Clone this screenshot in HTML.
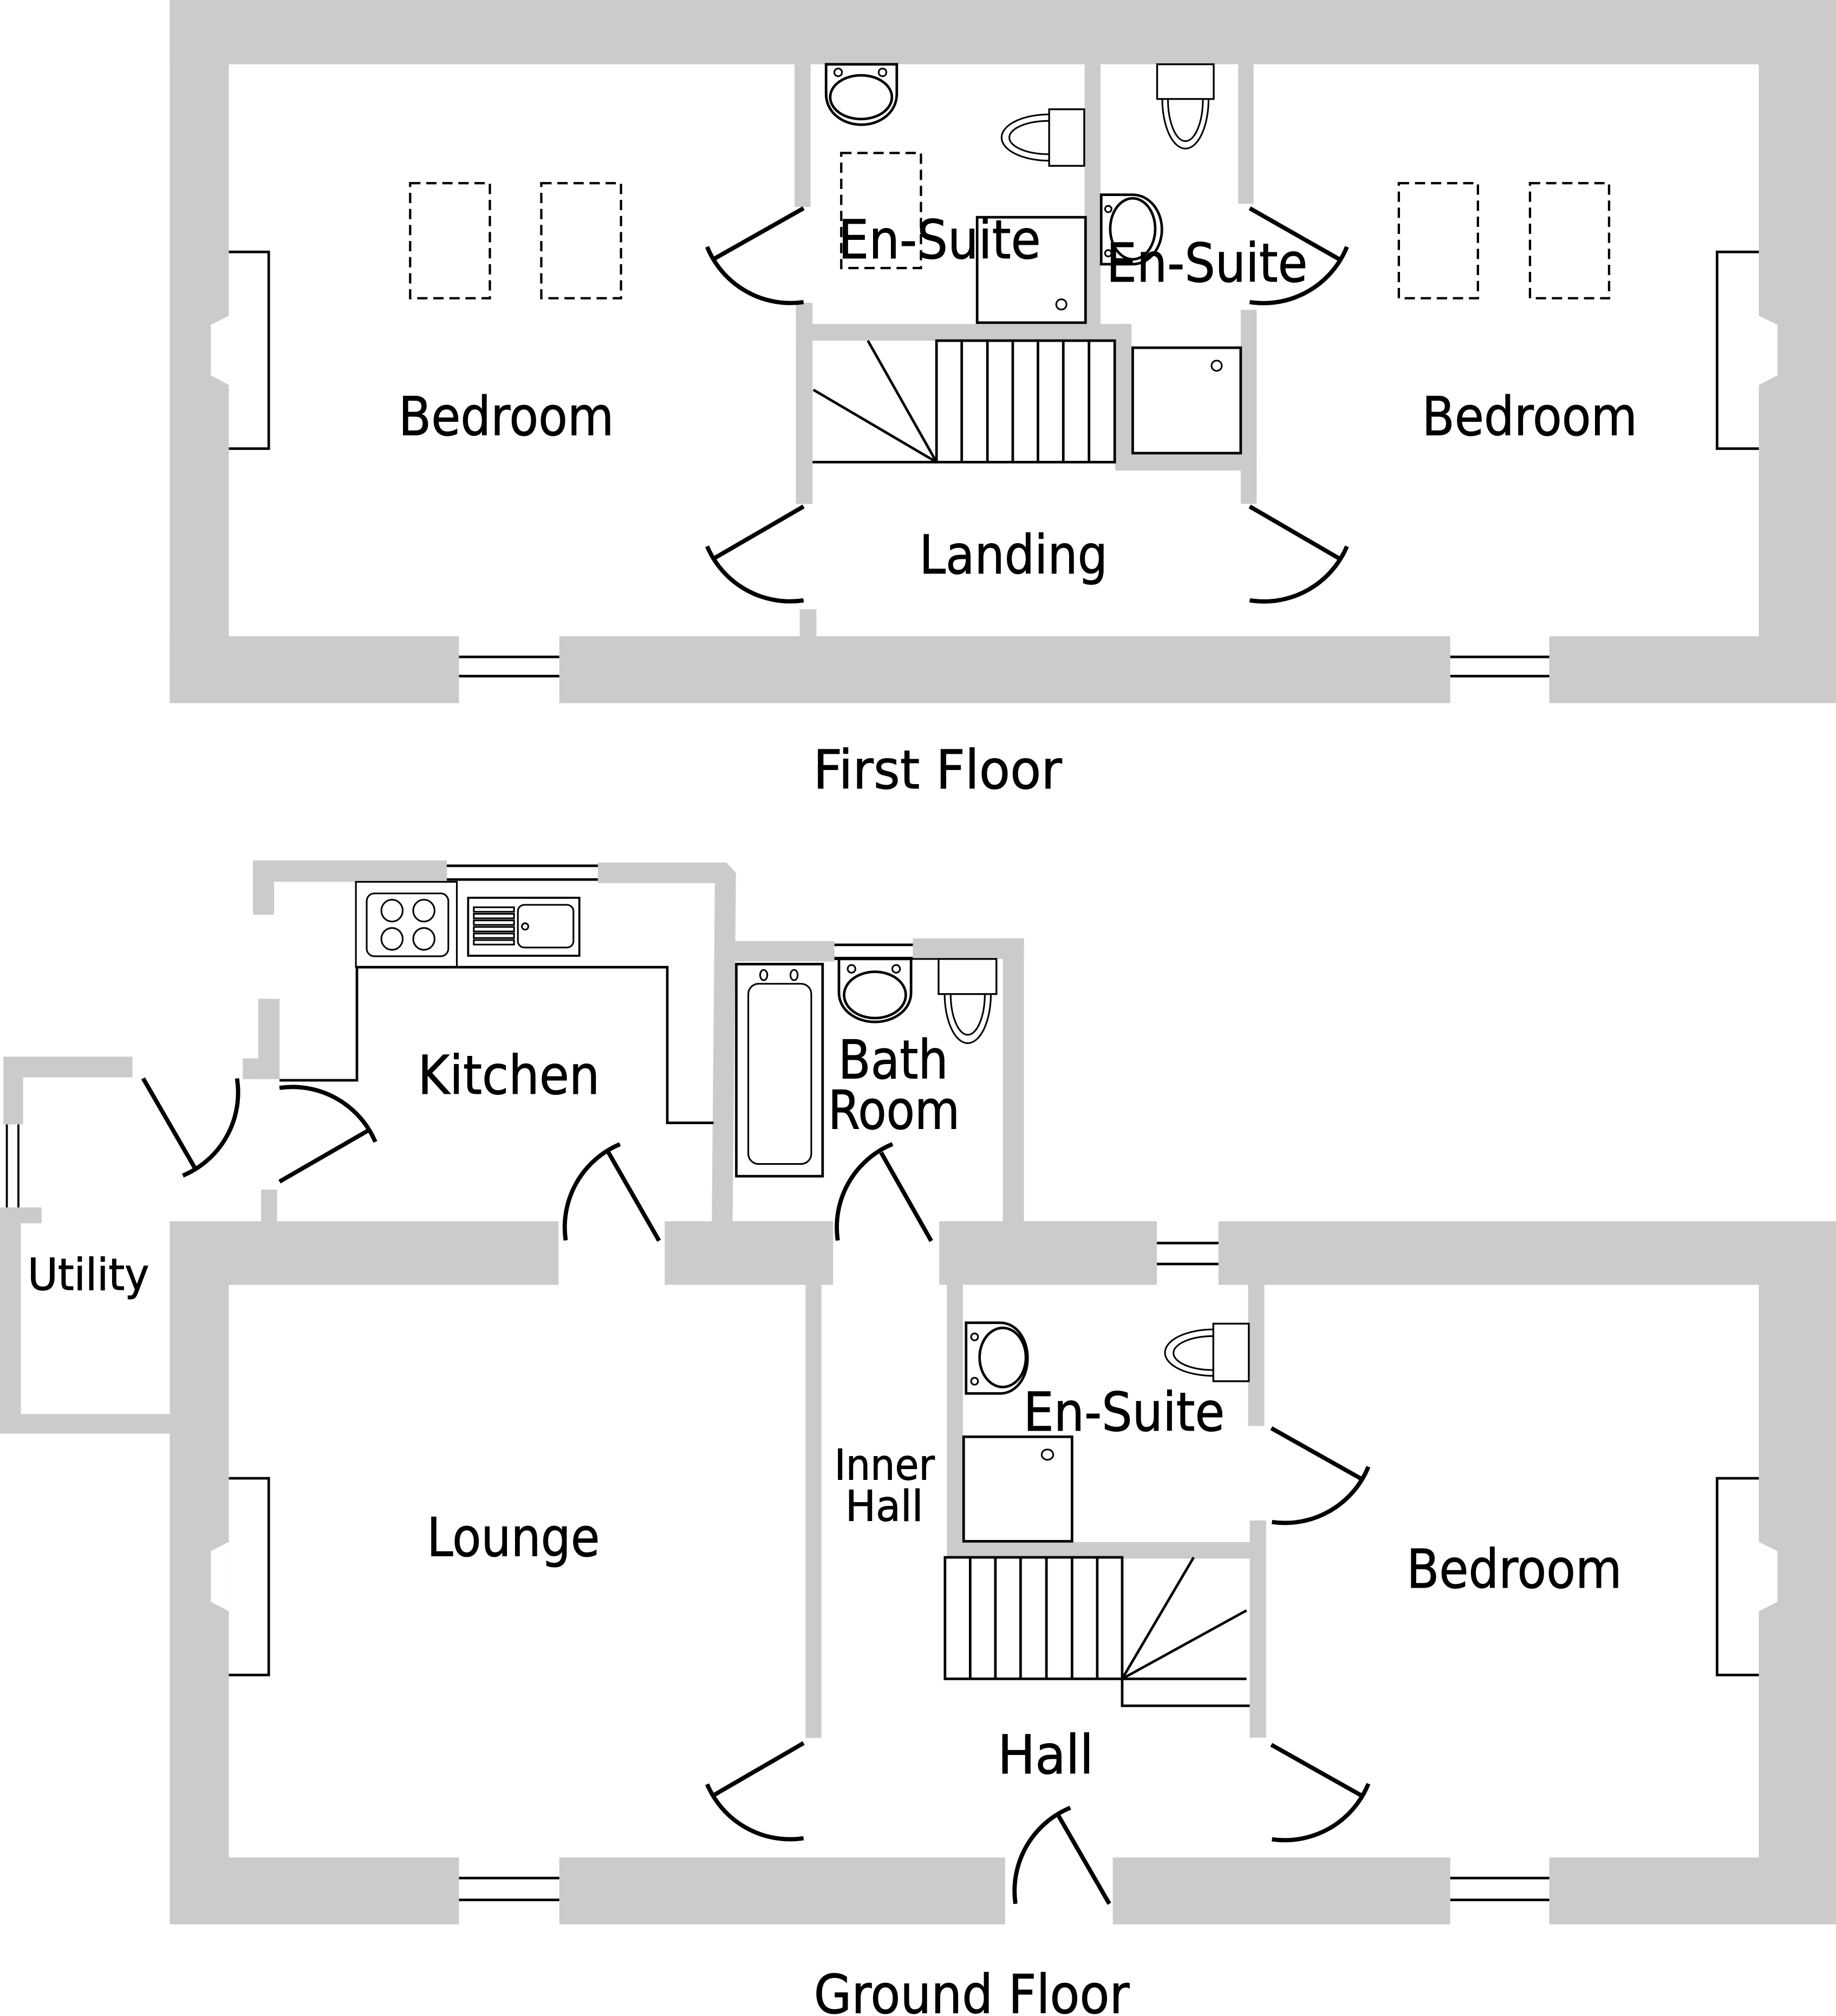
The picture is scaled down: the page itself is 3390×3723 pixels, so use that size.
<!DOCTYPE html>
<html><head><meta charset="utf-8"><style>
html,body{margin:0;padding:0;background:#fff}
svg{display:block}
text{font-family:"DejaVu Sans","Liberation Sans",sans-serif;fill:#000;stroke:#000;stroke-width:.45px;font-size:41.6px}
.g{fill:#cbcbcb;stroke:none}
.d{fill:none;stroke:#000;stroke-width:3.3}
.l{fill:none;stroke:#000;stroke-width:2}
.t{fill:none;stroke:#000;stroke-width:1.3}
.h{fill:none;stroke:#000;stroke-width:1.8;stroke-dasharray:8 4.5}
</style></head><body>
<svg xmlns="http://www.w3.org/2000/svg" width="3390" height="3723" viewBox="0 0 1428 1568.3">
<rect width="1428" height="1568.3" fill="#fff"/>
<!-- FIRST FLOOR walls -->
<g class="g">
<rect x="132" y="0" width="1296" height="50"/>
<path d="M132 0H178V245.6L164 252.7V291.9L178 299.5V547H132Z"/>
<path d="M1428 0H1368V245.6L1382.5 252.7V291.9L1368 299.5V547H1428Z"/>
<rect x="132" y="495" width="225" height="52"/>
<rect x="435" y="495" width="693" height="52"/>
<rect x="1205" y="495" width="223" height="52"/>
<rect x="618" y="50" width="12.5" height="111"/>
<rect x="619" y="235.5" width="13" height="156.5"/>
<rect x="619" y="252" width="261" height="13"/>
<rect x="843.6" y="50" width="12.4" height="202"/>
<rect x="867.4" y="252" width="12.6" height="114"/>
<rect x="867.4" y="353" width="110" height="13"/>
<rect x="963" y="50" width="12" height="108.5"/>
<rect x="965" y="241" width="12.4" height="151"/>
<rect x="622" y="474" width="13" height="21"/>
</g>
<path class="l" d="M357 511H435M357 526H435M1128 511H1205M1128 526H1205"/>
<path class="l" d="M178 196H209V349H178M1368 196H1335.5V349H1368"/>
<!-- doors FF -->
<path class="d" d="M625 162L556 201M550 192A70 70 0 0 0 625 235"/>
<path class="d" d="M625 394L556 434M550 425A70 70 0 0 0 625 467"/>
<path class="d" d="M972 162L1041.7 201.7M1047.6 192A70 70 0 0 1 972 235"/>
<path class="d" d="M972 394L1041.7 434.5M1047.6 425A70 70 0 0 1 972 467"/>
<!-- skylights -->
<rect class="h" x="319" y="142.5" width="62" height="89.5"/>
<rect class="h" x="421" y="142.5" width="62" height="89.5"/>
<rect class="h" x="654.3" y="119" width="62" height="89.5"/>
<rect class="h" x="1088" y="142.5" width="61.5" height="89.5"/>
<rect class="h" x="1190" y="142.5" width="61.5" height="89.5"/>
<!-- en-suite 1 fixtures -->
<path class="l" d="M642.5 50H697.5V73C697.5 88 684 97 670 97C656 97 642.5 88 642.5 73Z"/>
<ellipse class="l" cx="669.7" cy="75.6" rx="24" ry="17"/>
<circle class="t" cx="651.9" cy="56.3" r="3"/><circle class="t" cx="686.4" cy="56.3" r="3"/>
<path class="t" d="M816 89A37 18 0 0 0 816 125M816 94A31 13 0 0 0 816 120"/>
<rect fill="#fff" stroke="#000" stroke-width="1.4" x="816" y="85" width="27.3" height="44"/>
<rect class="l" x="760" y="169" width="84.3" height="82"/>
<circle class="t" cx="825.5" cy="236.8" r="4"/>
<!-- en-suite 2 fixtures -->
<path class="l" d="M856.5 151.5H881C894 151.5 903.7 164 903.7 178.5C903.7 193 894 205.5 881 205.5H856.5Z"/>
<ellipse class="l" cx="881" cy="178" rx="17.5" ry="23.7"/>
<circle class="t" cx="862" cy="162.6" r="2.5"/><circle class="t" cx="862" cy="197" r="2.5"/>
<path class="t" d="M904 77A18 38.6 0 0 0 940 77M908.4 77A13.6 32.8 0 0 0 935.6 77"/>
<rect fill="#fff" stroke="#000" stroke-width="1.4" x="900" y="50" width="44" height="27"/>
<rect class="l" x="881" y="270.5" width="84" height="82"/>
<circle class="t" cx="946.3" cy="284.5" r="4"/>
<!-- stairs FF -->
<rect class="l" x="728.4" y="265" width="138.6" height="94.5"/>
<path class="l" d="M748 265V359.5M768 265V359.5M787.7 265V359.5M807.3 265V359.5M827 265V359.5M847 265V359.5M632 359.5H728.4"/>
<path class="l" d="M675 265L728.4 359.5M632.6 303.2L728.4 359.5"/>
<!-- GROUND FLOOR walls -->
<g class="g">
<path d="M132 950H434.4V999.5H178V1445H357V1497H132V1115.3H0V939.3H32.3V951.6H16.2V1100H132Z"/>
<rect x="517" y="950" width="131" height="49.5"/>
<rect x="730.5" y="950" width="169.3" height="49.5"/>
<rect x="710" y="730" width="86.4" height="16"/>
<rect x="780" y="730" width="16.4" height="222"/>
<path d="M947.7 950H1428V1497H1205V1445H1368V999.5H947.7Z"/>
<rect x="435" y="1445" width="346.7" height="52"/>
<rect x="865.5" y="1445" width="262.5" height="52"/>
<path d="M196.7 669.3H347.5V686H213.2V711.6H196.7Z"/>
<path d="M465 671H565L572.4 679L569.8 950H553.6L556 687H465Z"/>
<rect x="556" y="732" width="93" height="16"/>
<rect x="200.8" y="777" width="16.6" height="62.5"/>
<rect x="188.8" y="823.4" width="28.6" height="16.1"/>
<path d="M2.6 822H103V838.2H18V874.7H2.6Z"/>
<rect x="203" y="925.4" width="12.5" height="25"/>
<rect x="626.5" y="999" width="12.4" height="353"/>
<rect x="736.5" y="999" width="12.4" height="213.5"/>
<rect x="970.8" y="999" width="12.6" height="110.3"/>
<rect x="736.5" y="1199.6" width="240" height="12.9"/>
<rect x="972" y="1182.8" width="12.8" height="169"/>
</g>
<!-- windows GF -->
<path class="l" d="M357 1461H435M357 1478H435M1128 1461H1205M1128 1478H1205"/>
<path class="l" d="M899.8 967H947.7M899.8 983.3H947.7"/>
<path class="l" d="M649 735H710"/>
<path d="M649 745.6H710" fill="none" stroke="#000" stroke-width="2.5"/>
<path class="l" d="M347.5 673.5H465M347.5 684.2H465"/>
<path class="t" d="M5.3 874.7V939.3M14.3 874.7V939.3" style="stroke-width:1.6"/>
<path class="l" d="M178 1150H209V1303H178M1368 1150H1335.5V1303H1368"/>
<!-- notches GF -->
<path fill="#fff" d="M178 1199.5L164 1206.7V1246L178 1253.5Z"/>
<path fill="#fff" d="M1368 1199.5L1382.5 1206.7V1246L1368 1253.5Z"/>
<!-- kitchen -->
<path class="l" d="M217.4 840.4H277.6V752.4H519V873.5H555"/>
<rect class="t" x="276.8" y="686" width="78.5" height="66.3"/>
<rect class="t" x="285.2" y="695" width="63.5" height="48.9" rx="6"/>
<ellipse class="t" cx="304.9" cy="708.4" rx="8.3" ry="8.5"/>
<ellipse class="t" cx="329.7" cy="708.4" rx="8.3" ry="8.5"/>
<ellipse class="t" cx="304.9" cy="730.4" rx="8.3" ry="8.5"/>
<ellipse class="t" cx="329.7" cy="730.4" rx="8.3" ry="8.5"/>
<rect class="t" x="364.1" y="698.4" width="86.5" height="45.1" style="stroke-width:1.6"/>
<g class="t"><rect x="368.5" y="705.8" width="31.3" height="3.5"/><rect x="368.5" y="710.9" width="31.3" height="3.5"/><rect x="368.5" y="716" width="31.3" height="3.5"/><rect x="368.5" y="721.1" width="31.3" height="3.5"/><rect x="368.5" y="726.2" width="31.3" height="3.5"/><rect x="368.5" y="731.3" width="31.3" height="3.5"/></g>
<rect class="t" x="402.8" y="703.9" width="43.2" height="33.2" rx="5"/>
<circle class="t" cx="408.4" cy="720.7" r="2.5"/>
<!-- bathroom -->
<rect class="l" x="572.7" y="750" width="67.1" height="165"/>
<rect class="t" x="582" y="765.3" width="49" height="140.2" rx="8"/>
<ellipse class="t" cx="594" cy="758.5" rx="2.8" ry="4"/>
<ellipse class="t" cx="617.6" cy="758.5" rx="2.8" ry="4"/>
<path class="l" d="M652.5 746H708.6V772C708.6 786 695 795 680.5 795C666 795 652.5 786 652.5 772Z"/>
<ellipse class="l" cx="680.5" cy="774" rx="24" ry="18"/>
<circle class="t" cx="662.3" cy="753.7" r="3"/><circle class="t" cx="697" cy="753.7" r="3"/>
<path class="t" d="M708 746H730"/>
<path class="t" d="M734.7 773A18 38.5 0 0 0 770.7 773M739.4 773A13.3 32 0 0 0 766 773"/>
<rect fill="#fff" stroke="#000" stroke-width="1.4" x="730" y="746" width="45" height="27.3"/>
<!-- en-suite GF -->
<path class="l" d="M751.4 1029H778C790 1029 799.2 1041 799.2 1056.5C799.2 1072 790 1084 778 1084H751.4Z"/>
<ellipse class="l" cx="779.9" cy="1056" rx="18" ry="23"/>
<circle class="t" cx="758" cy="1040" r="2.7"/><circle class="t" cx="758" cy="1074.5" r="2.7"/>
<path class="t" d="M943.7 1034.2A37.5 18 0 0 0 943.7 1070.3M943.7 1039.4A31 13.2 0 0 0 943.7 1065.8"/>
<rect fill="#fff" stroke="#000" stroke-width="1.4" x="943.7" y="1029.7" width="27.6" height="44.8"/>
<rect class="l" x="749.5" y="1117.7" width="84.3" height="81.3"/>
<ellipse class="t" cx="814.7" cy="1131.6" rx="4.5" ry="4"/>
<!-- stairs GF -->
<rect class="l" x="735" y="1211.5" width="137.8" height="94.5"/>
<path class="l" d="M754.6 1211.5V1306M774.2 1211.5V1306M793.8 1211.5V1306M813.9 1211.5V1306M833.8 1211.5V1306M853.4 1211.5V1306"/>
<path class="l" d="M872.8 1306L928.4 1211.5M872.8 1306L969.5 1252.8M872.8 1306H969.5M872.8 1306V1327H972"/>
<!-- doors GF -->
<path class="d" d="M988.8 1111L1058.6 1150.3M1064.3 1141A70 70 0 0 1 989.3 1184"/>
<path class="d" d="M988.8 1357.3L1058.6 1396.6M1064.3 1387.6A70 70 0 0 1 989.3 1430.8"/>
<path class="d" d="M625 1356L556 1396M550 1388A70 70 0 0 0 625 1430"/>
<path class="d" d="M822.3 1410.8L862.8 1481M832.5 1406.3A70 70 0 0 0 789.8 1481"/>
<path class="d" d="M685.3 896.6L724.3 965.4M694.2 890A70 70 0 0 0 651.6 965"/>
<path class="d" d="M473.1 896.3L512.6 965.2M482.2 890.1A70 70 0 0 0 440 964.9"/>
<path class="d" d="M111.3 838.9L151.2 908M142.2 914.5A70 70 0 0 0 184.3 838.9"/>
<path class="d" d="M217.4 919.2L286.6 879.3M291.9 888.3A70 70 0 0 0 217.4 846.3"/>
<!-- labels -->
<text x="310" y="338.5" textLength="167.5" lengthAdjust="spacingAndGlyphs">Bedroom</text>
<text x="1106" y="338.5" textLength="167.5" lengthAdjust="spacingAndGlyphs">Bedroom</text>
<text x="652" y="201" textLength="157.5" lengthAdjust="spacingAndGlyphs">En-Suite</text>
<text x="860.5" y="219" textLength="156.5" lengthAdjust="spacingAndGlyphs">En-Suite</text>
<text x="715" y="446" textLength="146.5" lengthAdjust="spacingAndGlyphs">Landing</text>
<text x="632.5" y="613.3" textLength="193.5" lengthAdjust="spacingAndGlyphs">First Floor</text>
<text x="325" y="851" textLength="141.5" lengthAdjust="spacingAndGlyphs">Kitchen</text>
<text x="652" y="839" textLength="85.5" lengthAdjust="spacingAndGlyphs">Bath</text>
<text x="644" y="878" textLength="102.5" lengthAdjust="spacingAndGlyphs">Room</text>
<text x="21.5" y="1003.5" textLength="94.5" lengthAdjust="spacingAndGlyphs" style="font-size:34px">Utility</text>
<text x="332" y="1210.5" textLength="134.5" lengthAdjust="spacingAndGlyphs">Lounge</text>
<text x="649" y="1151" textLength="78" lengthAdjust="spacingAndGlyphs" style="font-size:33px">Inner</text>
<text x="657.5" y="1183" textLength="60.5" lengthAdjust="spacingAndGlyphs" style="font-size:33px">Hall</text>
<text x="1094" y="1235" textLength="167.5" lengthAdjust="spacingAndGlyphs">Bedroom</text>
<text x="796" y="1113" textLength="156.5" lengthAdjust="spacingAndGlyphs">En-Suite</text>
<text x="776" y="1379.5" textLength="74.5" lengthAdjust="spacingAndGlyphs">Hall</text>
<text x="633" y="1566" textLength="245.5" lengthAdjust="spacingAndGlyphs">Ground Floor</text>
</svg>
</body></html>
